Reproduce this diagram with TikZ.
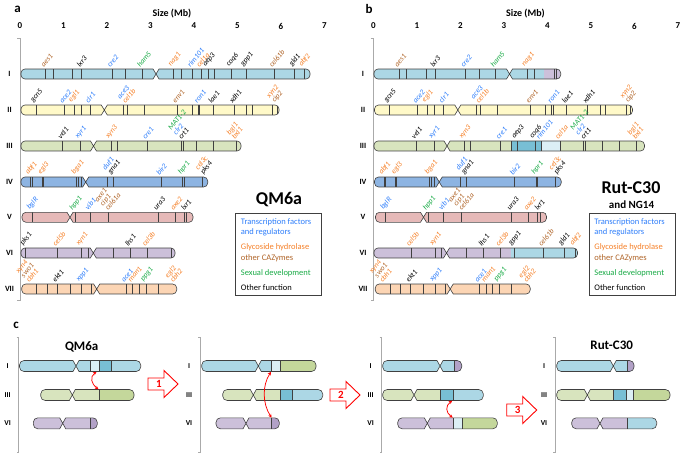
\documentclass[tikz,border=0pt]{standalone}
\usepackage{fontspec}
\setmainfont{Carlito}
\usetikzlibrary{arrows.meta}

\definecolor{cI}{RGB}{172,215,229}
\definecolor{cII}{RGB}{255,249,200}
\definecolor{cIII}{RGB}{216,228,190}
\definecolor{cIV}{RGB}{141,180,226}
\definecolor{cV}{RGB}{230,185,184}
\definecolor{cVI}{RGB}{204,192,218}
\definecolor{cVII}{RGB}{252,213,180}
\definecolor{dkVI}{RGB}{178,161,199}
\definecolor{dkIII}{RGB}{196,215,155}
\definecolor{midI}{RGB}{120,191,213}
\definecolor{paleI}{RGB}{220,239,245}
\definecolor{tfblue}{RGB}{45,125,250}
\definecolor{ghorange}{RGB}{245,128,40}
\definecolor{czbrown}{RGB}{175,100,40}
\definecolor{sexgreen}{RGB}{25,170,70}
\definecolor{outl}{RGB}{64,64,64}
\definecolor{axgray}{RGB}{170,170,170}
\definecolor{stepred}{RGB}{255,0,0}

\tikzset{
  chromline/.style={draw=outl, line width=0.6pt},
  band/.style={draw=outl, line width=0.7pt},
  gene/.style={rotate=50, anchor=south west, inner sep=0.3pt, align=left,
    font=\fontsize{7.5}{6.8}\selectfont\itshape},
  axnum/.style={font=\fontsize{9}{10}\selectfont\bfseries},
  axtitle/.style={font=\fontsize{10}{11}\selectfont\bfseries},
  rowlab/.style={font=\fontsize{8}{9}\selectfont\bfseries},
  axisline/.style={draw=axgray, line width=0.8pt},
  panel/.style={font=\fontsize{13}{14}\selectfont\bfseries},
  legendbox/.style={draw=outl, line width=0.9pt},
  legtext/.style={anchor=west, inner sep=0pt, font=\fontsize{8.5}{9}\selectfont},
  strain/.style={font=\fontsize{18}{20}\selectfont\bfseries},
  substrain/.style={font=\fontsize{11}{12}\selectfont\bfseries},
  ctitle/.style={font=\fontsize{13}{14}\selectfont\bfseries},
  steparrow/.style={draw=stepred, line width=0.9pt, fill=white},
  stepnum/.style={text=stepred, font=\fontsize{11}{12}\selectfont\bfseries},
  swaparrow/.style={draw=stepred, line width=0.75pt,
    {Stealth[length=3.5pt,width=3.5pt]}-{Stealth[length=3.5pt,width=3.5pt]}}
}

\newcommand{\tf}[1]{\textcolor{tfblue}{#1}}
\newcommand{\gh}[1]{\textcolor{ghorange}{#1}}
\newcommand{\cz}[1]{\textcolor{czbrown}{#1}}
\newcommand{\sx}[1]{\textcolor{sexgreen}{#1}}

% chromosome arms: y, start, centromere / y, centromere, end
\def\chh{5}\def\crr{4}
\newcommand{\leftarm}[3]{(#3-3,#1-\chh) -- (#2+\crr,#1-\chh) arc[start angle=270,end angle=180,radius=\crr] -- (#2,#1+\chh-\crr) arc[start angle=180,end angle=90,radius=\crr] -- (#3-3,#1+\chh) -- (#3,#1) -- cycle}
\newcommand{\rightarm}[3]{(#2+3,#1-\chh) -- (#3-\crr,#1-\chh) arc[start angle=270,end angle=360,radius=\crr] -- (#3,#1+\chh-\crr) arc[start angle=0,end angle=90,radius=\crr] -- (#2+3,#1+\chh) -- (#2,#1) -- cycle}
\newcommand{\seg}[3]{\fill[#3] (#1,\cyy-\chh) rectangle (#2,\cyy+\chh);}
% y, start, centromere, end, colour, bands, segments
\newcommand{\chrom}[7]{%
  \def\cyy{#1}%
  \begin{scope}
    \clip \leftarm{#1}{#2}{#3} \rightarm{#1}{#3}{#4};
    \fill[#5] (#2,#1-\chh) rectangle (#4,#1+\chh);
    #7
    \foreach \bx in {#6} \draw[band] (\bx,#1-\chh) -- (\bx,#1+\chh);
  \end{scope}
  \draw[chromline] \leftarm{#1}{#2}{#3} \rightarm{#1}{#3}{#4};
}
\newcommand{\genes}[2]{\foreach \gx/\gt in {#2} \node[gene] at (\gx-1.5,#1-\chh-0.8) {\gt};}

% rows that panels a and b share
\newcommand{\rowII}{%
  \chrom{110}{21}{104.3}{279}{cII}{36,64.3,74,81,90.3,123,127.3,144,177.3,192,198,199.5,213.3,234.3,246.7,252.3,272.7,277.3}{}
  \genes{110}{36/gcn5, 64.3/\tf{ace2}, 74/\gh{egl1}, 90.3/\tf{clr1}, 127.3/{\tf{ace3}\\\gh{cel1b}}, 177.3/\cz{env1}, 199/\tf{ron1}, 213.3/lae1, 234.3/xdh1, 277.3/{\gh{xyn2}\\\cz{cip2}}}
}
\newcommand{\rowIV}{%
  \chrom{182}{21}{85.7}{207.7}{cIV}{30.7,32.3,42.3,43.3,76.3,78.3,81.3,107.3,113.3,161.3,182.7,184.3,202}{}
  \genes{182}{30.7/\gh{abf1}, 43.3/\gh{egl3}, 77/\gh{bga1}, 113.3/{\tf{duf1}\\gna1}, 161.3/\tf{bir2}, 183.5/\sx{hpr1}, 206/{\gh{cel3c}\\pks4}}
}
\newcommand{\rowV}{%
  \chrom{217.3}{22}{70}{193}{cV}{32.3,75,90,108.3,158.3,175.3,184.3,186.7}{}
  \genes{217.3}{32.3/\tf{bglR}, 75/\sx{hpp1}, 90/\tf{vib1}, 110/{\cz{axe1}\\\cz{cip1}\\\cz{cel61a}}, 158.3/ura3, 175.3/\gh{axe2}, 186/lxr1}
}
\newcommand{\rowVII}{%
  \chrom{289}{21.7}{96.7}{176.7}{cVII}{36.7,47.3,57.3,70,81.7,91.7,126,132.7,139,146,158.3}{}
  \genes{289}{31/{\gh{xyn4}\\\cz{swo1}\\\gh{cbh1}}, 57.3/ekt1, 81.7/\tf{xpp1}, 126/\tf{ace1}, 132.7/\gh{man1}, 146/\sx{ppg1}, 175/{\gh{egl2}\\\gh{cbh2}}}
}
\newcommand{\sizeframe}{%
  \node[axtitle] (size) at (172,13.7) {Size (Mb)};
  \foreach \m in {0,...,7} \node[axnum] (mb\m) at (20+43.5*\m,26) {\m};
  \draw[axisline] (17,38) -- (20,38) -- (20,300) -- (17,300);
  \foreach \r/\yy in {I/74,II/110,III/146,IV/182,V/217.3,VI/253,VII/289}
    \node[rowlab] (row\r) at (9.5,\yy) {\r};
}
\newcommand{\legendkey}{%
  \draw[legendbox] (235.7,213.3) rectangle (321.7,295.7);
  \node[legtext, text=tfblue] (lg1) at (240.7,222) {Transcription factors};
  \node[legtext, text=tfblue] (lg2) at (240.7,232.7) {and regulators};
  \node[legtext, text=ghorange] (lg3) at (240.7,247.7) {Glycoside hydrolase};
  \node[legtext, text=czbrown] (lg4) at (240.7,258.2) {other CAZymes};
  \node[legtext, text=sexgreen] (lg5) at (240.7,273) {Sexual development};
  \node[legtext] (lg6) at (240.7,287.7) {Other function};
}
\newcommand{\bigarrow}[4]{%
  \draw[steparrow] (#2,#3-6) -- (#2+16,#3-6) -- (#2+16,#3-13.5) -- (#2+30,#3) -- (#2+16,#3+13.5) -- (#2+16,#3+6) -- (#2,#3+6) -- cycle;
  \node[stepnum] (#1) at (#2+11,#3) {#4};
}
\newcommand{\cframe}[1]{%
  \draw[axisline] (#1-2,337) -- (#1,337) -- (#1,452) -- (#1-2,452);
  \foreach \r/\yy in {I/366,III/395,VI/423.3}
    \node[rowlab, font=\fontsize{7.5}{8}\selectfont\bfseries] at (#1-11,\yy) {\r};
}

\begin{document}
\begin{tikzpicture}[x=1pt,y=-1pt]
\useasboundingbox (0,0) rectangle (685,453);

% a: QM6a
\node[panel] (pa) at (17.5,9) {a};
\sizeframe
\chrom{74}{21}{156}{310}{cI}{45.7,53.3,72.7,81.7,112,125.7,142,173.7,181,192.3,201.3,208,214.3,231.7,246,274,294.7,304}{}
\genes{74}{45.7/\cz{aes1}, 81.7/lxr3, 112/\tf{cre2}, 142/\sx{ham5}, 173.7/\gh{nag1}, 192.3/\tf{rim101}, 201.3/\gh{cel1a}, 208/aep3, 231.7/coq6, 246/gpp1, 274/\cz{cel61b}, 294.7/gld1, 304/\gh{abf2}}
\rowII
\chrom{146}{21}{93.5}{241}{cIII}{62.7,80.7,111,117.3,147.3,181.7,183.3,196.7,213.3,236.7}{}
\genes{146}{62.7/vel1, 80.7/\tf{xyr1}, 111/\gh{xyn3}, 147.3/\tf{cre1}, 183.3/{\sx{MAT1-2}\\\tf{clr2}\\crt1}, 236.7/{\gh{bgl1}\\\gh{bxl1}}}
\rowIV
\rowV
\chrom{253}{21}{93.3}{175}{cVI}{25.7,57.5,81.5,88,113,130,147,171.7}{}
\genes{253}{25.7/pks1, 57.5/\gh{cel5b}, 81.5/\gh{xyn1}, 130/lhs1, 147/\gh{cel3b}}
\rowVII
\legendkey
\node[strain] (qm) at (279,199) {QM6a};

% b: Rut-C30
\begin{scope}[xshift=353.5pt]
\node[panel] (pb) at (15.5,9) {b};
\sizeframe
\chrom{74}{20.5}{156}{207.2}{cI}{45.7,53.3,72.7,81.7,112,125.7,142,173.7,181,201,202.6}{\seg{190}{207.2}{cVI}}
\genes{74}{45.7/\cz{aes1}, 81.7/lxr3, 112/\tf{cre2}, 142/\sx{ham5}, 173.7/\gh{nag1}}
\rowII
\chrom{146}{20.5}{93.5}{291}{cIII}{62.7,80.7,111,117.3,147.3,157.5,163.5,181.5,187.5,206.5,229.5,232,248.5,265.5,282.5}{\seg{157.5}{187.5}{midI}\seg{187.5}{206.5}{paleI}}
\genes{146}{62.7/vel1, 80.7/\tf{xyr1}, 111/\gh{xyn3}, 147.3/\tf{cre1}, 163.5/aep3, 181.5/coq6, 187.5/\tf{rim101}, 206.5/\gh{cel1a}, 232/{\sx{MAT1-2}\\\tf{clr2}\\crt1}, 284/{\gh{bgl1}\\\gh{bxl1}}}
\rowIV
\rowV
\chrom{253}{20.5}{93}{224}{cVI}{57.5,81.5,88,113,130,147,160.5,189.8,210.5,221.5}{\seg{157.2}{224}{cI}}
\genes{253}{57.5/\gh{cel5b}, 81.5/\gh{xyn1}, 130/lhs1, 147/\gh{cel3b}, 160.5/gpp1, 189.8/\cz{cel61b}, 210.5/gld1, 221.5/\gh{abf2}}
\rowVII
\legendkey
\node[strain] (rut) at (277.5,187.5) {Rut-C30};
\node[substrain] (ng) at (278,205) {and NG14};
\end{scope}

% c: rearrangement steps
\begin{scope}
\def\chh{5.5}\def\crr{4.5}
\node[panel] (pc) at (16,325.7) {c};
\cframe{18.7}
\node[ctitle] (qmc) at (81.7,347.3) {QM6a};
\chrom{366}{19.5}{76}{140.7}{cI}{90,99,111}{\seg{90}{99}{paleI}\seg{99}{111}{midI}}
\chrom{395}{40.7}{72.3}{134}{cIII}{99}{\seg{99}{134}{dkIII}}
\chrom{423.3}{33.3}{62.7}{97.3}{cVI}{90}{\seg{90}{97.3}{dkVI}}
\coordinate (xa1) at (96.5,371.8);
\coordinate (xb1) at (98.5,389.3);
\draw[swaparrow] (xa1) .. controls +(-7,5) and +(-7,-5) .. (xb1);
\bigarrow{n1}{148}{384}{1}

\cframe{200}
\chrom{366}{201.7}{258.3}{316}{cI}{271.7,280}{\seg{271.7}{280}{paleI}\seg{280}{316}{dkIII}}
\chrom{395}{222.7}{253.3}{322.7}{cIII}{280,292.3}{\seg{280}{292.3}{midI}\seg{292.3}{322.7}{cI}}
\chrom{423.3}{216}{246}{279.3}{cVI}{271.7}{\seg{271.7}{279.3}{dkVI}}
\coordinate (xa2) at (271,371.8);
\coordinate (xb2) at (271.5,417.6);
\draw[swaparrow] (xa2) .. controls +(-9,14) and +(-9,-14) .. (xb2);
\bigarrow{n2}{330}{395}{2}

\cframe{381.7}
\chrom{366}{382.7}{440}{461.7}{cI}{454}{\seg{454}{461.7}{dkVI}}
\chrom{395}{382.7}{414}{483.3}{cIII}{440,453.3}{\seg{440}{453.3}{midI}\seg{453.3}{483.3}{cI}}
\chrom{423.3}{397.7}{427.3}{497.3}{cVI}{453.3,462}{\seg{453.3}{462}{paleI}\seg{462}{497.3}{dkIII}}
\coordinate (xa3) at (452.2,400.7);
\coordinate (xb3) at (452.7,417.6);
\draw[swaparrow] (xa3) .. controls +(-7,5) and +(-7,-5) .. (xb3);
\bigarrow{n3}{506.7}{410}{3}

\cframe{555}
\node[ctitle] (rutc) at (611.7,345) {Rut-C30};
\chrom{366}{556.7}{613.3}{634}{cI}{627.3}{\seg{627.3}{634}{dkVI}}
\chrom{395}{556.7}{587.3}{670}{cIII}{613.3,626,633.3}{\seg{613.3}{626}{midI}\seg{626}{633.3}{paleI}\seg{633.3}{670}{dkIII}}
\chrom{423.3}{571.7}{600}{656.7}{cVI}{627.3}{\seg{627.3}{656.7}{cI}}
\end{scope}
\end{tikzpicture}
\end{document}
